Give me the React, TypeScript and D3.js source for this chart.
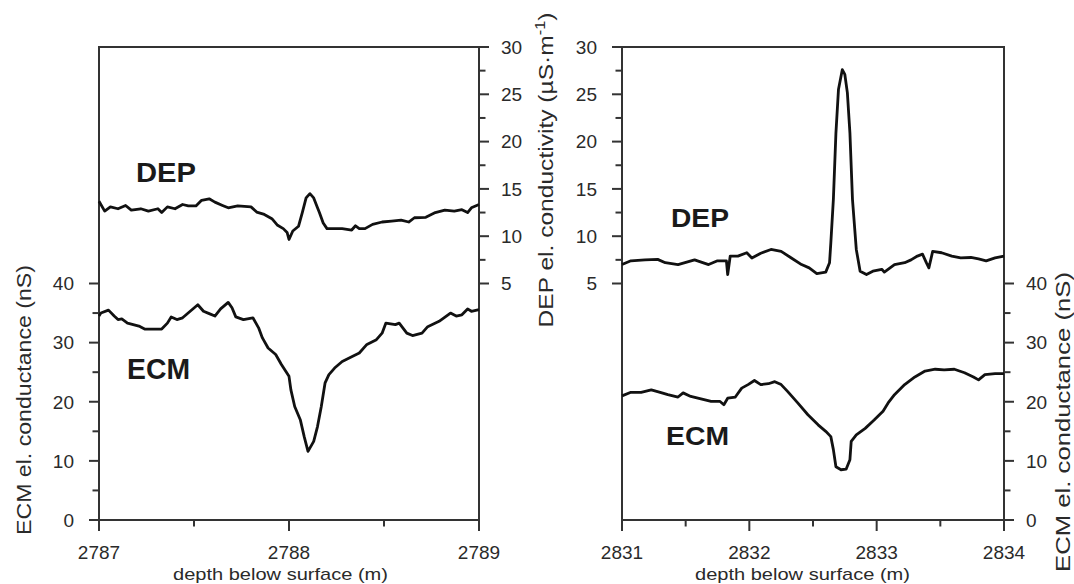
import React from "react";
import * as d3 from "d3";

// ---------- data ----------
const leftDepthDomain: [number, number] = [2787, 2789];
const rightDepthDomain: [number, number] = [2831, 2834];
const leftDepthTicks = [2787, 2788, 2789];
const leftDepthMinor = [2787.5, 2788.5];
const rightDepthTicks = [2831, 2832, 2833, 2834];
const rightDepthMinor = [2831.5, 2832.5, 2833.5];

const ecmTicks = [0, 10, 20, 30, 40];
const ecmMinor = [5, 15, 25, 35];
const depTicks = [5, 10, 15, 20, 25, 30];
const depMinor = [7.5, 12.5, 17.5, 22.5, 27.5];

// [depth (m), DEP conductivity (µS/m)]
const leftDEP: [number, number][] = [
  [2787.0, 13.7], [2787.03, 12.65], [2787.06, 13.1], [2787.1, 12.9], [2787.14, 13.25],
  [2787.17, 12.75], [2787.22, 12.9], [2787.26, 12.65], [2787.31, 12.9], [2787.33, 12.5],
  [2787.36, 13.1], [2787.4, 12.9], [2787.44, 13.35], [2787.47, 13.2], [2787.51, 13.2],
  [2787.54, 13.8], [2787.58, 13.95], [2787.61, 13.6], [2787.65, 13.25], [2787.68, 13.0],
  [2787.73, 13.2], [2787.8, 13.1], [2787.83, 12.55], [2787.87, 12.3], [2787.91, 11.85],
  [2787.94, 11.15], [2787.97, 10.8], [2787.99, 10.4], [2788.0, 9.65], [2788.02, 10.55],
  [2788.05, 11.05], [2788.07, 12.5], [2788.09, 14.05], [2788.11, 14.5], [2788.13, 14.05],
  [2788.15, 13.0], [2788.16, 12.5], [2788.18, 11.4], [2788.2, 10.8], [2788.28, 10.8],
  [2788.33, 10.65], [2788.35, 11.1], [2788.37, 10.8], [2788.4, 10.8], [2788.44, 11.25],
  [2788.49, 11.5], [2788.54, 11.6], [2788.59, 11.7], [2788.63, 11.5], [2788.66, 11.95],
  [2788.72, 12.0], [2788.77, 12.5], [2788.82, 12.75], [2788.87, 12.65], [2788.91, 12.8],
  [2788.94, 12.5], [2788.96, 13.0], [2789.0, 13.35],
];

// [depth (m), ECM conductance (nS)]
const leftECM: [number, number][] = [
  [2787.0, 34.5], [2787.01, 35.0], [2787.05, 35.5], [2787.08, 34.5], [2787.1, 33.9],
  [2787.12, 34.0], [2787.15, 33.3], [2787.21, 32.8], [2787.24, 32.3], [2787.33, 32.3],
  [2787.36, 33.3], [2787.38, 34.35], [2787.41, 33.9], [2787.44, 34.2], [2787.48, 35.3],
  [2787.52, 36.4], [2787.55, 35.3], [2787.58, 34.9], [2787.61, 34.5], [2787.64, 35.7],
  [2787.68, 36.8], [2787.7, 35.9], [2787.72, 34.35], [2787.76, 33.9], [2787.81, 34.2],
  [2787.84, 32.5], [2787.86, 30.8], [2787.89, 29.1], [2787.93, 28.0], [2787.96, 26.3],
  [2788.0, 24.3], [2788.01, 22.0], [2788.03, 19.2], [2788.06, 16.9], [2788.08, 14.1],
  [2788.1, 11.6], [2788.13, 13.3], [2788.15, 15.8], [2788.17, 19.2], [2788.19, 23.2],
  [2788.21, 24.6], [2788.24, 25.7], [2788.28, 26.8], [2788.33, 27.6], [2788.37, 28.25],
  [2788.41, 29.7], [2788.46, 30.5], [2788.49, 31.6], [2788.51, 33.3], [2788.56, 33.05],
  [2788.58, 33.3], [2788.62, 31.6], [2788.65, 31.2], [2788.7, 31.6], [2788.73, 32.7],
  [2788.79, 33.6], [2788.85, 35.0], [2788.88, 34.5], [2788.91, 34.7], [2788.94, 35.7],
  [2788.96, 35.3], [2789.0, 35.6],
];

const rightDEP: [number, number][] = [
  [2831.0, 7.0], [2831.07, 7.4], [2831.18, 7.5], [2831.28, 7.55], [2831.34, 7.2],
  [2831.44, 7.0], [2831.57, 7.5], [2831.68, 7.0], [2831.75, 7.4], [2831.82, 7.4],
  [2831.83, 5.95], [2831.85, 7.9], [2831.91, 7.9], [2831.98, 8.25], [2832.02, 7.7],
  [2832.09, 8.2], [2832.17, 8.6], [2832.25, 8.4], [2832.33, 7.7], [2832.41, 7.0],
  [2832.47, 6.65], [2832.53, 6.05], [2832.6, 6.2], [2832.63, 7.2], [2832.64, 9.3],
  [2832.66, 13.9], [2832.68, 20.9], [2832.7, 25.5], [2832.73, 27.6], [2832.75, 27.1],
  [2832.77, 25.15], [2832.79, 20.9], [2832.81, 13.9], [2832.84, 8.6], [2832.87, 6.3],
  [2832.92, 5.95], [2832.97, 6.3], [2833.04, 6.5], [2833.06, 6.2], [2833.14, 7.0],
  [2833.22, 7.2], [2833.27, 7.5], [2833.32, 7.9], [2833.36, 8.1], [2833.39, 7.2],
  [2833.41, 6.65], [2833.44, 8.4], [2833.51, 8.25], [2833.59, 7.9], [2833.66, 7.7],
  [2833.74, 7.75], [2833.8, 7.6], [2833.86, 7.4], [2833.93, 7.7], [2834.0, 7.9],
];

const rightECM: [number, number][] = [
  [2831.0, 21.0], [2831.07, 21.6], [2831.15, 21.6], [2831.23, 22.0], [2831.3, 21.6],
  [2831.36, 21.2], [2831.44, 20.8], [2831.48, 21.5], [2831.54, 20.9], [2831.62, 20.5],
  [2831.7, 20.05], [2831.77, 20.05], [2831.8, 19.5], [2831.83, 20.6], [2831.89, 20.8],
  [2831.94, 22.3], [2831.99, 22.9], [2832.04, 23.6], [2832.09, 22.9], [2832.15, 23.05],
  [2832.2, 23.4], [2832.25, 22.9], [2832.3, 21.75], [2832.38, 19.8], [2832.46, 17.8],
  [2832.54, 16.1], [2832.6, 15.0], [2832.64, 14.1], [2832.66, 11.9], [2832.68, 9.0],
  [2832.72, 8.5], [2832.76, 8.6], [2832.79, 10.2], [2832.8, 13.3], [2832.84, 14.4],
  [2832.91, 15.5], [2832.98, 16.9], [2833.05, 18.4], [2833.09, 19.8], [2833.14, 21.2],
  [2833.22, 22.9], [2833.3, 24.2], [2833.38, 25.2], [2833.46, 25.5], [2833.53, 25.4],
  [2833.61, 25.5], [2833.69, 24.9], [2833.76, 24.2], [2833.8, 23.7], [2833.85, 24.6],
  [2833.93, 24.75], [2834.0, 24.75],
];

// ---------- layout ----------
const W = 1074;
const H = 584;
const TOP = 47;
const BOTTOM = 520;
const MAJ = 10;
const MIN = 6.5;
const FONT = "'Liberation Sans', Arial, Helvetica, sans-serif";
const AXIS = "#333";
const TXT = "#2a2a2a";

const yECM = d3.scaleLinear().domain([0, 80]).range([BOTTOM, TOP]);
const yDEP = d3.scaleLinear().domain([-20, 30]).range([BOTTOM, TOP]);

type YAxisProps = {
  x: number;
  side: "left" | "right";
  scale: d3.ScaleLinear<number, number>;
  major: number[];
  minor: number[];
};

function YAxis({ x, side, scale, major, minor }: YAxisProps) {
  const dir = side === "left" ? -1 : 1;
  return (
    <g>
      {major.map((v) => (
        <g key={"M" + v}>
          <line x1={x} x2={x + dir * MAJ} y1={scale(v)} y2={scale(v)} stroke={AXIS} strokeWidth={2} />
          <text
            x={side === "left" ? x - 25 : x + 22}
            y={scale(v)}
            dy="0.36em"
            textAnchor={side === "left" ? "end" : "start"}
            fontSize={19}
            fontFamily={FONT}
            fill={TXT}
          >
            {v}
          </text>
        </g>
      ))}
      {minor.map((v) => (
        <line key={"m" + v} x1={x} x2={x + dir * MIN} y1={scale(v)} y2={scale(v)} stroke={AXIS} strokeWidth={2} />
      ))}
    </g>
  );
}

type PanelProps = {
  x0: number;
  x1: number;
  domain: [number, number];
  major: number[];
  minor: number[];
  dep: [number, number][];
  ecm: [number, number][];
  leftAxis: "ECM" | "DEP";
  titleCenter: number;
  depLabel: { x: number; y: number; size: number; len: number };
  ecmLabel: { x: number; y: number; size: number; len: number };
};

function Panel(p: PanelProps) {
  const x = d3.scaleLinear().domain(p.domain).range([p.x0, p.x1]);
  const lineDEP = d3
    .line<[number, number]>()
    .x((d) => x(d[0]))
    .y((d) => yDEP(d[1]));
  const lineECM = d3
    .line<[number, number]>()
    .x((d) => x(d[0]))
    .y((d) => yECM(d[1]));
  const leftScale = p.leftAxis === "ECM" ? yECM : yDEP;
  const rightScale = p.leftAxis === "ECM" ? yDEP : yECM;
  return (
    <g>
      <rect x={p.x0} y={TOP} width={p.x1 - p.x0} height={BOTTOM - TOP} fill="none" stroke={AXIS} strokeWidth={2} />
      <YAxis
        x={p.x0}
        side="left"
        scale={leftScale}
        major={p.leftAxis === "ECM" ? ecmTicks : depTicks}
        minor={p.leftAxis === "ECM" ? ecmMinor : depMinor}
      />
      <YAxis
        x={p.x1}
        side="right"
        scale={rightScale}
        major={p.leftAxis === "ECM" ? depTicks : ecmTicks}
        minor={p.leftAxis === "ECM" ? depMinor : ecmMinor}
      />
      {p.major.map((v) => (
        <g key={"x" + v}>
          <line x1={x(v)} x2={x(v)} y1={BOTTOM} y2={BOTTOM + MAJ + 1} stroke={AXIS} strokeWidth={2} />
          <text x={x(v)} y={559} textAnchor="middle" fontSize={19} fontFamily={FONT} fill={TXT}>
            {v}
          </text>
        </g>
      ))}
      {p.minor.map((v) => (
        <line key={"xm" + v} x1={x(v)} x2={x(v)} y1={BOTTOM} y2={BOTTOM + MIN} stroke={AXIS} strokeWidth={2} />
      ))}
      <text
        x={p.titleCenter}
        y={579.5}
        textAnchor="middle"
        fontSize={17}
        fontFamily={FONT}
        fill={TXT}
        textLength={215}
        lengthAdjust="spacingAndGlyphs"
      >
        depth below surface (m)
      </text>
      <path d={lineDEP(p.dep) || ""} fill="none" stroke="#111" strokeWidth={2.8} strokeLinejoin="round" />
      <path d={lineECM(p.ecm) || ""} fill="none" stroke="#111" strokeWidth={2.8} strokeLinejoin="round" />
      <text
        x={p.depLabel.x}
        y={p.depLabel.y}
        fontSize={p.depLabel.size}
        fontWeight="bold"
        fontFamily={FONT}
        fill="#1a1a1a"
        textLength={p.depLabel.len}
        lengthAdjust="spacingAndGlyphs"
      >
        DEP
      </text>
      <text
        x={p.ecmLabel.x}
        y={p.ecmLabel.y}
        fontSize={p.ecmLabel.size}
        fontWeight="bold"
        fontFamily={FONT}
        fill="#1a1a1a"
        textLength={p.ecmLabel.len}
        lengthAdjust="spacingAndGlyphs"
      >
        ECM
      </text>
    </g>
  );
}

function VLabel({ x, y, len, children }: { x: number; y: number; len: number; children: React.ReactNode }) {
  return (
    <text
      transform={`translate(${x},${y}) rotate(-90)`}
      textAnchor="middle"
      fontSize={21}
      fontFamily={FONT}
      fill={TXT}
      textLength={len}
      lengthAdjust="spacingAndGlyphs"
    >
      {children}
    </text>
  );
}

export default function App() {
  return (
    <svg
      width={W}
      height={H}
      viewBox={`0 0 ${W} ${H}`}
      style={{ position: "absolute", left: 0, top: 0, background: "#fff", display: "block" }}
    >
      <rect x={0} y={0} width={W} height={H} fill="#fff" />
      <Panel
        x0={99}
        x1={479}
        domain={leftDepthDomain}
        major={leftDepthTicks}
        minor={leftDepthMinor}
        dep={leftDEP}
        ecm={leftECM}
        leftAxis="ECM"
        titleCenter={280.5}
        depLabel={{ x: 136, y: 182, size: 28, len: 60 }}
        ecmLabel={{ x: 127, y: 379, size: 29, len: 63 }}
      />
      <Panel
        x0={622}
        x1={1004}
        domain={rightDepthDomain}
        major={rightDepthTicks}
        minor={rightDepthMinor}
        dep={rightDEP}
        ecm={rightECM}
        leftAxis="DEP"
        titleCenter={802.5}
        depLabel={{ x: 671, y: 227, size: 26, len: 58 }}
        ecmLabel={{ x: 666, y: 445, size: 26, len: 63 }}
      />
      <VLabel x={31} y={400} len={270}>
        ECM el. conductance (nS)
      </VLabel>
      <VLabel x={553} y={170} len={315}>
        DEP el. conductivity (µS·m
        <tspan dy={-8} fontSize={14}>
          -1
        </tspan>
        <tspan dy={8}>)</tspan>
      </VLabel>
      <VLabel x={1070} y={422} len={300}>
        ECM el. conductance (nS)
      </VLabel>
    </svg>
  );
}
